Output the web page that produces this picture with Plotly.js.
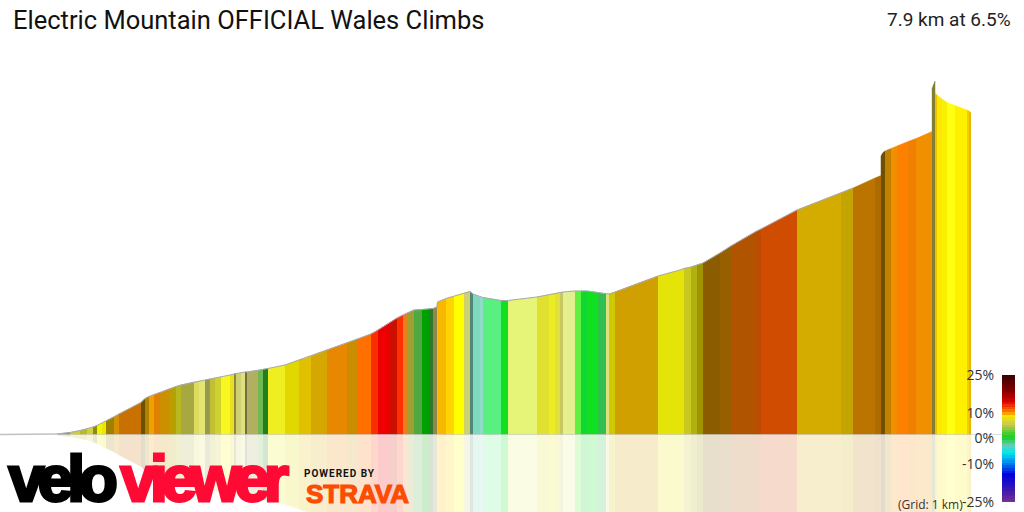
<!DOCTYPE html>
<html><head><meta charset="utf-8">
<script src="https://cdn.plot.ly/plotly-3.0.1.min.js"></script>
<style>
html,body{margin:0;padding:0;background:#fff}
#chart{width:1024px;height:512px}
.annotation[data-index="2"] text{letter-spacing:-6.2px;stroke:#000;stroke-width:3px}
.annotation[data-index="3"] text{letter-spacing:-6.2px;stroke:#ff0a35;stroke-width:3px}
.annotation[data-index="4"] text{letter-spacing:1px}
.annotation[data-index="5"] text{stroke:#fc4c02;stroke-width:1.2px}
</style></head><body><div id="chart"></div>
<script>
const titleText = "Electric Mountain OFFICIAL Wales Climbs";
const summaryText = "7.9 km at 6.5%";
const gridText = "(Grid: 1 km)";
const brandA = "velo", brandB = "viewer", poweredText = "POWERED BY", stravaText = "STRAVA";

const distance = [57,70,80,87,93,97,102,106,114,119,141,145,149,154,160,169,176,181,194,199,205,210,215,221,230,234,236,241,245,247,258,263,268,285,299,311,327,347,358,371,378,389,397,403,408,414,422,429,433,437,437.5,446,454,464,470,473,480,483,501,508,537,549,555,560,563,575,581,587,598,606,609,615,658,680,684,691,697,703,720,731,755,761,797,841,853,875,881,881,883,885,891,897,908,916,932,932,935,935,937,942,947,955,967,969,971];
const elevation = [0.5,2,4,5.5,7.5,9,11.5,13.5,17.5,20.5,32,36,38,40,42,45.5,48,49.5,52.5,53.5,54.5,55.5,56.5,57.5,59.5,60.5,61,61.5,62.5,62.5,64,65,66,69.5,74.5,78.5,84.5,91.5,95.5,100.5,104.5,111.5,116.5,119.5,122,124.5,125,125.5,126,127.5,132.5,136,138.5,141.5,143,140.5,137.5,137,134,134,137.5,140,141,142,142.5,143.5,143.5,143.5,142,140.5,140.5,142.5,158.5,164.5,166,167.5,169.5,171.5,181.5,188.5,202.5,205.5,224.5,241.5,246.5,256.5,259,278.5,282,283.5,286,288.5,293,296,303,346,353.5,341.5,339.5,335.5,332,329,324.5,323.5,321.5];
const segmentColor = ["#7a9a50","#cfcf30","#b8b820","#d0d040","#8c8c10","#f5f500","#e8e800","#a08000","#d49000","#c87000","#6a5000","#b08000","#f0a000","#e08000","#cc8f00","#b8a000","#b8b820","#a8a840","#dcdc60","#e4e470","#989850","#c0c030","#d0d030","#f8f820","#e8e020","#888840","#d0d070","#e0e080","#707040","#b0b060","#70b850","#208020","#eeee20","#e0d800","#e0c000","#d4a800","#e88800","#cc8c00","#ff7000","#f83000","#ee0000","#cc1000","#ff3000","#e88020","#a0a030","#50a840","#00a000","#307830","#908848","#908848","#f8b800","#ffd400","#ffff00","#d0d070","#508878","#80d8c0","#90dcc8","#58f080","#10e020","#e6f478","#e0e030","#ecec20","#e0e040","#c8c860","#e4f090","#60f040","#10d830","#10e020","#30c050","#e0e080","#d0c800","#d0a000","#e4e408","#e4e408","#c8c820","#b0b010","#a09400","#8c5c00","#966000","#b05400","#bc4c00","#d04c00","#d4ac00","#c4a400","#bc7400","#ac6c00","#705000","#705000","#705000","#c08000","#f09000","#ff8000","#f08000","#f09000","#f09000","#808030","#808030","#f0c000","#ffe800","#f8f000","#ffff10","#fff000","#f0d000","#e8b800"];

const gradeScale = [-25,-24,-23,-22,-21,-20,-19,-18,-17,-16,-15,-14,-13,-12,-11,-10,-9,-8,-7,-6,-5,-4,-3,-2,-1,0,1,2,3,4,5,6,7,8,9,10,11,12,13,14,15,16,17,18,19,20,21,22,23,24,25];
const gradeStops = [0,0.1,0.22,0.31,0.39,0.45,0.51,0.61,0.68,0.71,0.79,0.88,1];
const gradeStopColors = ["#7a3090","#3818b0","#0000e0","#0088f0","#00e8e8","#70c8c0","#10d020","#c8c850","#f8e800","#ff8000","#e00000","#800000","#3c0000"];
const tickValues = [-25,-10,0,10,25];
const tickLabels = ["-25%","-10%","0%","10%","25%"];

function paleColor(hex){
  const v = [1,3,5].map(i=>parseInt(hex.substr(i,2),16));
  return "rgb("+v.map(c=>Math.round(c*0.2+255*0.8)).join(",")+")";
}
const traces = [];
segmentColor.forEach((c,i)=>{
  if(i+1>=distance.length) return;
  const xs=[distance[i],distance[i+1]], ys=[elevation[i],elevation[i+1]];
  traces.push({type:"scatter",mode:"lines",x:xs,y:ys.map(v=>-v),fill:"tozeroy",fillcolor:paleColor(c),line:{color:paleColor(c),width:0.5},hoverinfo:"skip"});
  traces.push({type:"scatter",mode:"lines",x:xs,y:ys,fill:"tozeroy",fillcolor:c,line:{color:c,width:0.5},hoverinfo:"skip"});
});
const lastOutline = distance.indexOf(853);
traces.push({type:"scatter",mode:"lines",x:distance.slice(0,lastOutline+1),y:elevation.slice(0,lastOutline+1),line:{color:"#a8a8b0",width:1},hoverinfo:"skip"});
traces.push({type:"scatter",mode:"lines",x:[0,57],y:[0,0.5],line:{color:"#c0c0c0",width:1.5},hoverinfo:"skip"});
traces.push({type:"scatter",mode:"lines",x:[57,1002],y:[0,0],line:{color:"rgba(190,190,190,0.55)",width:1},hoverinfo:"skip"});
traces.push({type:"heatmap",xaxis:"x2",yaxis:"y2",x:[0],y:gradeScale,z:gradeScale.map(v=>[v]),zmin:-25,zmax:25,showscale:false,hoverinfo:"skip",
  colorscale:gradeStops.map((s,i)=>[s,gradeStopColors[i]])});

const layout = {
  width:1024,height:512,margin:{l:0,r:0,t:0,b:0},paper_bgcolor:"#fff",plot_bgcolor:"#fff",showlegend:false,hovermode:false,
  title:{text:titleText,x:13/1024,xanchor:"left",y:1-20/512,yanchor:"middle",font:{family:"Roboto",size:25.5,color:"#111"}},
  xaxis:{range:[0,1024],visible:false,fixedrange:true},
  yaxis:{range:[-77.5,434.5],visible:false,fixedrange:true},
  xaxis2:{domain:[1002/1024,1015/1024],anchor:"y2",visible:false,fixedrange:true},
  yaxis2:{domain:[10/512,137/512],anchor:"x2",range:[-25,25],side:"left",tickmode:"array",tickvals:tickValues,ticktext:tickLabels,ticks:"outside",ticklen:4,tickcolor:"rgba(0,0,0,0)",showline:false,showgrid:false,zeroline:false,tickfont:{family:"Open Sans",size:14,color:"#333"},fixedrange:true},
  annotations:[
    {xref:"x",yref:"y",x:1013,y:415.5,xanchor:"right",yanchor:"middle",showarrow:false,text:summaryText,font:{family:"Roboto",size:19,color:"#222"}},
    {xref:"x",yref:"y",x:965,y:-69.5,xanchor:"right",yanchor:"middle",showarrow:false,text:gridText,font:{family:"Open Sans",size:12,color:"#333"}},
    {xref:"x",yref:"y",x:60,y:-44.5,xanchor:"center",yanchor:"middle",showarrow:false,text:brandA,font:{family:"Liberation Sans",size:64,weight:700,color:"#000"}},
    {xref:"x",yref:"y",x:201,y:-44.5,xanchor:"center",yanchor:"middle",showarrow:false,text:brandB,font:{family:"Liberation Sans",size:64,weight:700,color:"#ff0a35"}},
    {xref:"x",yref:"y",x:340,y:-38.5,xanchor:"center",yanchor:"middle",showarrow:false,text:poweredText,font:{family:"Roboto",size:10,weight:700,color:"#111"}},
    {xref:"x",yref:"y",x:357,y:-59,xanchor:"center",yanchor:"middle",showarrow:false,text:stravaText,font:{family:"Liberation Sans",size:26,weight:700,color:"#fc4c02"}}
  ]
};
Plotly.newPlot("chart",traces,layout,{displayModeBar:false,staticPlot:true});
</script></body></html>
